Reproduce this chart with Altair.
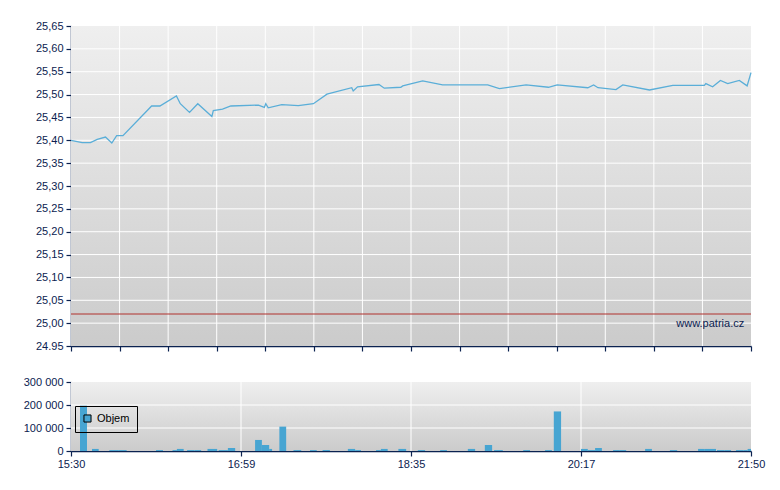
import altair as alt
import pandas as pd

# ---------------- data ----------------
# x positions are in axis units: 0 = 15:30 ... 14 = 21:50 (labels every 3.5 units)
price_x = [0, 0.23, 0.40, 0.54, 0.71, 0.84, 0.94, 1.07, 1.66, 1.83, 2.17, 2.25, 2.44, 2.61,
           2.90, 2.93, 3.12, 3.29, 3.86, 3.98, 4.01, 4.06, 4.34, 4.68, 4.99, 5.27, 5.78,
           5.81, 5.90, 6.34, 6.45, 6.79, 6.83, 7.24, 7.65, 8.58, 8.82, 9.37, 9.83, 10.01,
           10.64, 10.76, 10.85, 11.22, 11.36, 11.91, 12.39, 13.04, 13.07, 13.21, 13.37,
           13.52, 13.76, 13.92, 14.0]
price_y = [25.400, 25.395, 25.395, 25.402, 25.407, 25.394, 25.410, 25.410, 25.475, 25.475,
           25.497, 25.480, 25.461, 25.480, 25.452, 25.465, 25.468, 25.475, 25.477, 25.472,
           25.480, 25.471, 25.478, 25.476, 25.480, 25.501, 25.515, 25.508, 25.517, 25.522,
           25.514, 25.516, 25.519, 25.530, 25.521, 25.521, 25.513, 25.521, 25.516, 25.521,
           25.515, 25.521, 25.515, 25.511, 25.521, 25.510, 25.520, 25.520, 25.524, 25.517,
           25.531, 25.524, 25.531, 25.519, 25.548]

vol_start = [0.185, 0.432, 0.789, 0.97, 1.75, 2.09, 2.18, 2.39, 2.54, 2.81, 3.04, 3.23, 3.79,
             3.93, 4.08, 4.29, 4.58, 4.92, 5.18, 5.70, 5.85, 6.28, 6.38, 6.74, 7.14, 7.60,
             8.17, 8.52, 8.71, 9.31, 9.76, 9.94, 10.50, 10.64, 10.79, 11.16, 11.30, 11.82,
             12.33, 12.91, 13.05, 13.30, 13.45, 13.69, 13.84, 13.93]
vol_end = [0.329, 0.57, 0.97, 1.146, 1.894, 2.18, 2.32, 2.54, 2.68, 3.01, 3.23, 3.38, 3.93,
           4.08, 4.14, 4.43, 4.74, 5.06, 5.33, 5.85, 5.97, 6.38, 6.52, 6.90, 7.29, 7.74,
           8.32, 8.67, 8.89, 9.45, 9.90, 10.09, 10.64, 10.79, 10.93, 11.30, 11.43, 11.96,
           12.48, 13.05, 13.28, 13.45, 13.59, 13.84, 13.93, 14.0]
volumes = [197000, 9000, 4000, 4000, 4000, 4000, 9000, 4000, 4000, 9000, 4000, 13000, 48000,
           26000, 9000, 106000, 4000, 4000, 4000, 9000, 4000, 4000, 9000, 9000, 4000, 4000,
           9000, 26000, 4000, 4000, 4000, 172000, 9000, 4000, 13000, 4000, 4000, 9000, 4000,
           9000, 9000, 4000, 4000, 4000, 4000, 9000]
series_name = "Objem"

prev_close = 25.02
watermark = "www.patria.cz"

x_domain = [0, 14]
price_domain = [24.95, 25.65]
vol_domain = [0, 300000]
main_x_ticks = list(range(0, 15))
main_y_ticks = [24.95, 25.00, 25.05, 25.10, 25.15, 25.20, 25.25, 25.30, 25.35, 25.40,
                25.45, 25.50, 25.55, 25.60, 25.65]
time_ticks = [0, 3.5, 7, 10.5, 14]
time_labels = ["15:30", "16:59", "18:35", "20:17", "21:50"]
vol_ticks = [0, 100000, 200000, 300000]

# ---------------- styling ----------------
NAVY = "#0b2250"
FONT = "Liberation Sans"
LINE = "#5aaed8"
BAR = "#47a5d2"
grad = alt.Gradient(gradient="linear",
                    stops=[alt.GradientStop(color="#efefef", offset=0),
                           alt.GradientStop(color="#cbcbcb", offset=1)],
                    x1=0, x2=0, y1=0, y2=1)

price_df = pd.DataFrame({"x": price_x, "y": price_y})
vol_df = pd.DataFrame({"x0": vol_start, "x1": vol_end, "v": volumes,
                       "s": [series_name] * len(volumes)})

# ---------------- main chart ----------------
sx = alt.Scale(domain=x_domain, nice=False, zero=False)
sy = alt.Scale(domain=price_domain, nice=False, zero=False)
ax_x = alt.Axis(values=main_x_ticks, labels=False, title=None, grid=False, tickSize=5)
ax_y = alt.Axis(values=main_y_ticks, title=None, grid=False, tickSize=5, labelPadding=3,
                labelExpr="datum.value < 24.96 ? '24.95' : replace(format(datum.value, '.2f'), '.', ',')")

bg_main = alt.Chart(pd.DataFrame({"x0": [x_domain[0]], "x1": [x_domain[1]],
                                  "y0": [price_domain[0]], "y1": [price_domain[1]]})
                    ).mark_rect(color=grad).encode(
    x=alt.X("x0:Q", scale=sx, axis=ax_x), x2="x1:Q",
    y=alt.Y("y0:Q", scale=sy, axis=ax_y), y2="y1:Q")

gx_main = alt.Chart(pd.DataFrame({"g": main_x_ticks[1:-1]})).mark_rule(
    color="white", strokeWidth=1).encode(x=alt.X("g:Q", scale=sx, axis=ax_x))
gy_main = alt.Chart(pd.DataFrame({"g": main_y_ticks[1:-1]})).mark_rule(
    color="white", strokeWidth=1).encode(y=alt.Y("g:Q", scale=sy, axis=ax_y))

ref = alt.Chart(pd.DataFrame({"p": [prev_close]})).mark_rule(
    color="#b0302c", strokeWidth=1).encode(y=alt.Y("p:Q", scale=sy, axis=ax_y))

line = alt.Chart(price_df).mark_line(color=LINE, strokeWidth=1.3).encode(
    x=alt.X("x:Q", scale=sx, axis=ax_x), y=alt.Y("y:Q", scale=sy, axis=ax_y))

wm = alt.Chart(pd.DataFrame({"x": [13.86], "y": [24.999], "t": [watermark]})).mark_text(
    align="right", baseline="middle", font=FONT, fontSize=11, color=NAVY).encode(
    x=alt.X("x:Q", scale=sx, axis=ax_x), y=alt.Y("y:Q", scale=sy, axis=ax_y), text="t:N")

main = alt.layer(bg_main, gx_main, gy_main, ref, line, wm).properties(width=680, height=320)

# ---------------- volume chart ----------------
sx2 = alt.Scale(domain=x_domain, nice=False, zero=False)
sv = alt.Scale(domain=vol_domain, nice=False)
label_expr = " : ".join(
    f"datum.value == {t} ? '{l}'" for t, l in zip(time_ticks, time_labels)) + " : ''"
ax_x2 = alt.Axis(values=time_ticks, title=None, grid=False, tickSize=5, labelFlush=False,
                 labelExpr=label_expr, labelPadding=2)
ax_v = alt.Axis(values=vol_ticks, title=None, grid=False, tickSize=5, labelPadding=3,
                labelExpr="replace(format(datum.value, ','), ',', ' ')")

bg_vol = alt.Chart(pd.DataFrame({"x0": [x_domain[0]], "x1": [x_domain[1]],
                                 "y0": [vol_domain[0]], "y1": [vol_domain[1]]})
                   ).mark_rect(color=grad).encode(
    x=alt.X("x0:Q", scale=sx2, axis=ax_x2), x2="x1:Q",
    y=alt.Y("y0:Q", scale=sv, axis=ax_v), y2="y1:Q")

gx_vol = alt.Chart(pd.DataFrame({"g": time_ticks[1:-1]})).mark_rule(
    color="white", strokeWidth=1).encode(x=alt.X("g:Q", scale=sx2, axis=ax_x2))
gy_vol = alt.Chart(pd.DataFrame({"g": vol_ticks[1:-1]})).mark_rule(
    color="white", strokeWidth=1).encode(y=alt.Y("g:Q", scale=sv, axis=ax_v))

bars = alt.Chart(vol_df).mark_rect().encode(
    x=alt.X("x0:Q", scale=sx2, axis=ax_x2), x2="x1:Q",
    y=alt.Y("v:Q", scale=sv, axis=ax_v), y2=alt.Y2(datum=0),
    color=alt.Color("s:N", scale=alt.Scale(domain=[series_name], range=[BAR]),
                    legend=alt.Legend(orient="none", legendX=4, legendY=380, title=None,
                                      strokeColor="black", padding=7, symbolType="square",
                                      symbolSize=50, symbolStrokeColor="black",
                                      symbolStrokeWidth=1, labelFont=FONT, labelFontSize=11,
                                      labelColor="black", labelOffset=4)))

vol = alt.layer(bg_vol, gx_vol, gy_vol, bars).properties(width=680, height=69)

chart = alt.vconcat(main, vol, spacing=22).properties(
    padding={"left": 14, "top": 11, "right": 5, "bottom": 5},
    background="white"
).configure_view(stroke="transparent").configure_axis(
    labelFont=FONT, labelFontSize=11, labelColor=NAVY, domainColor=NAVY, tickColor=NAVY,
    domainWidth=1.5, tickWidth=1.2
)

chart.save("out.html", embed_options={"renderer": "svg", "actions": False})
